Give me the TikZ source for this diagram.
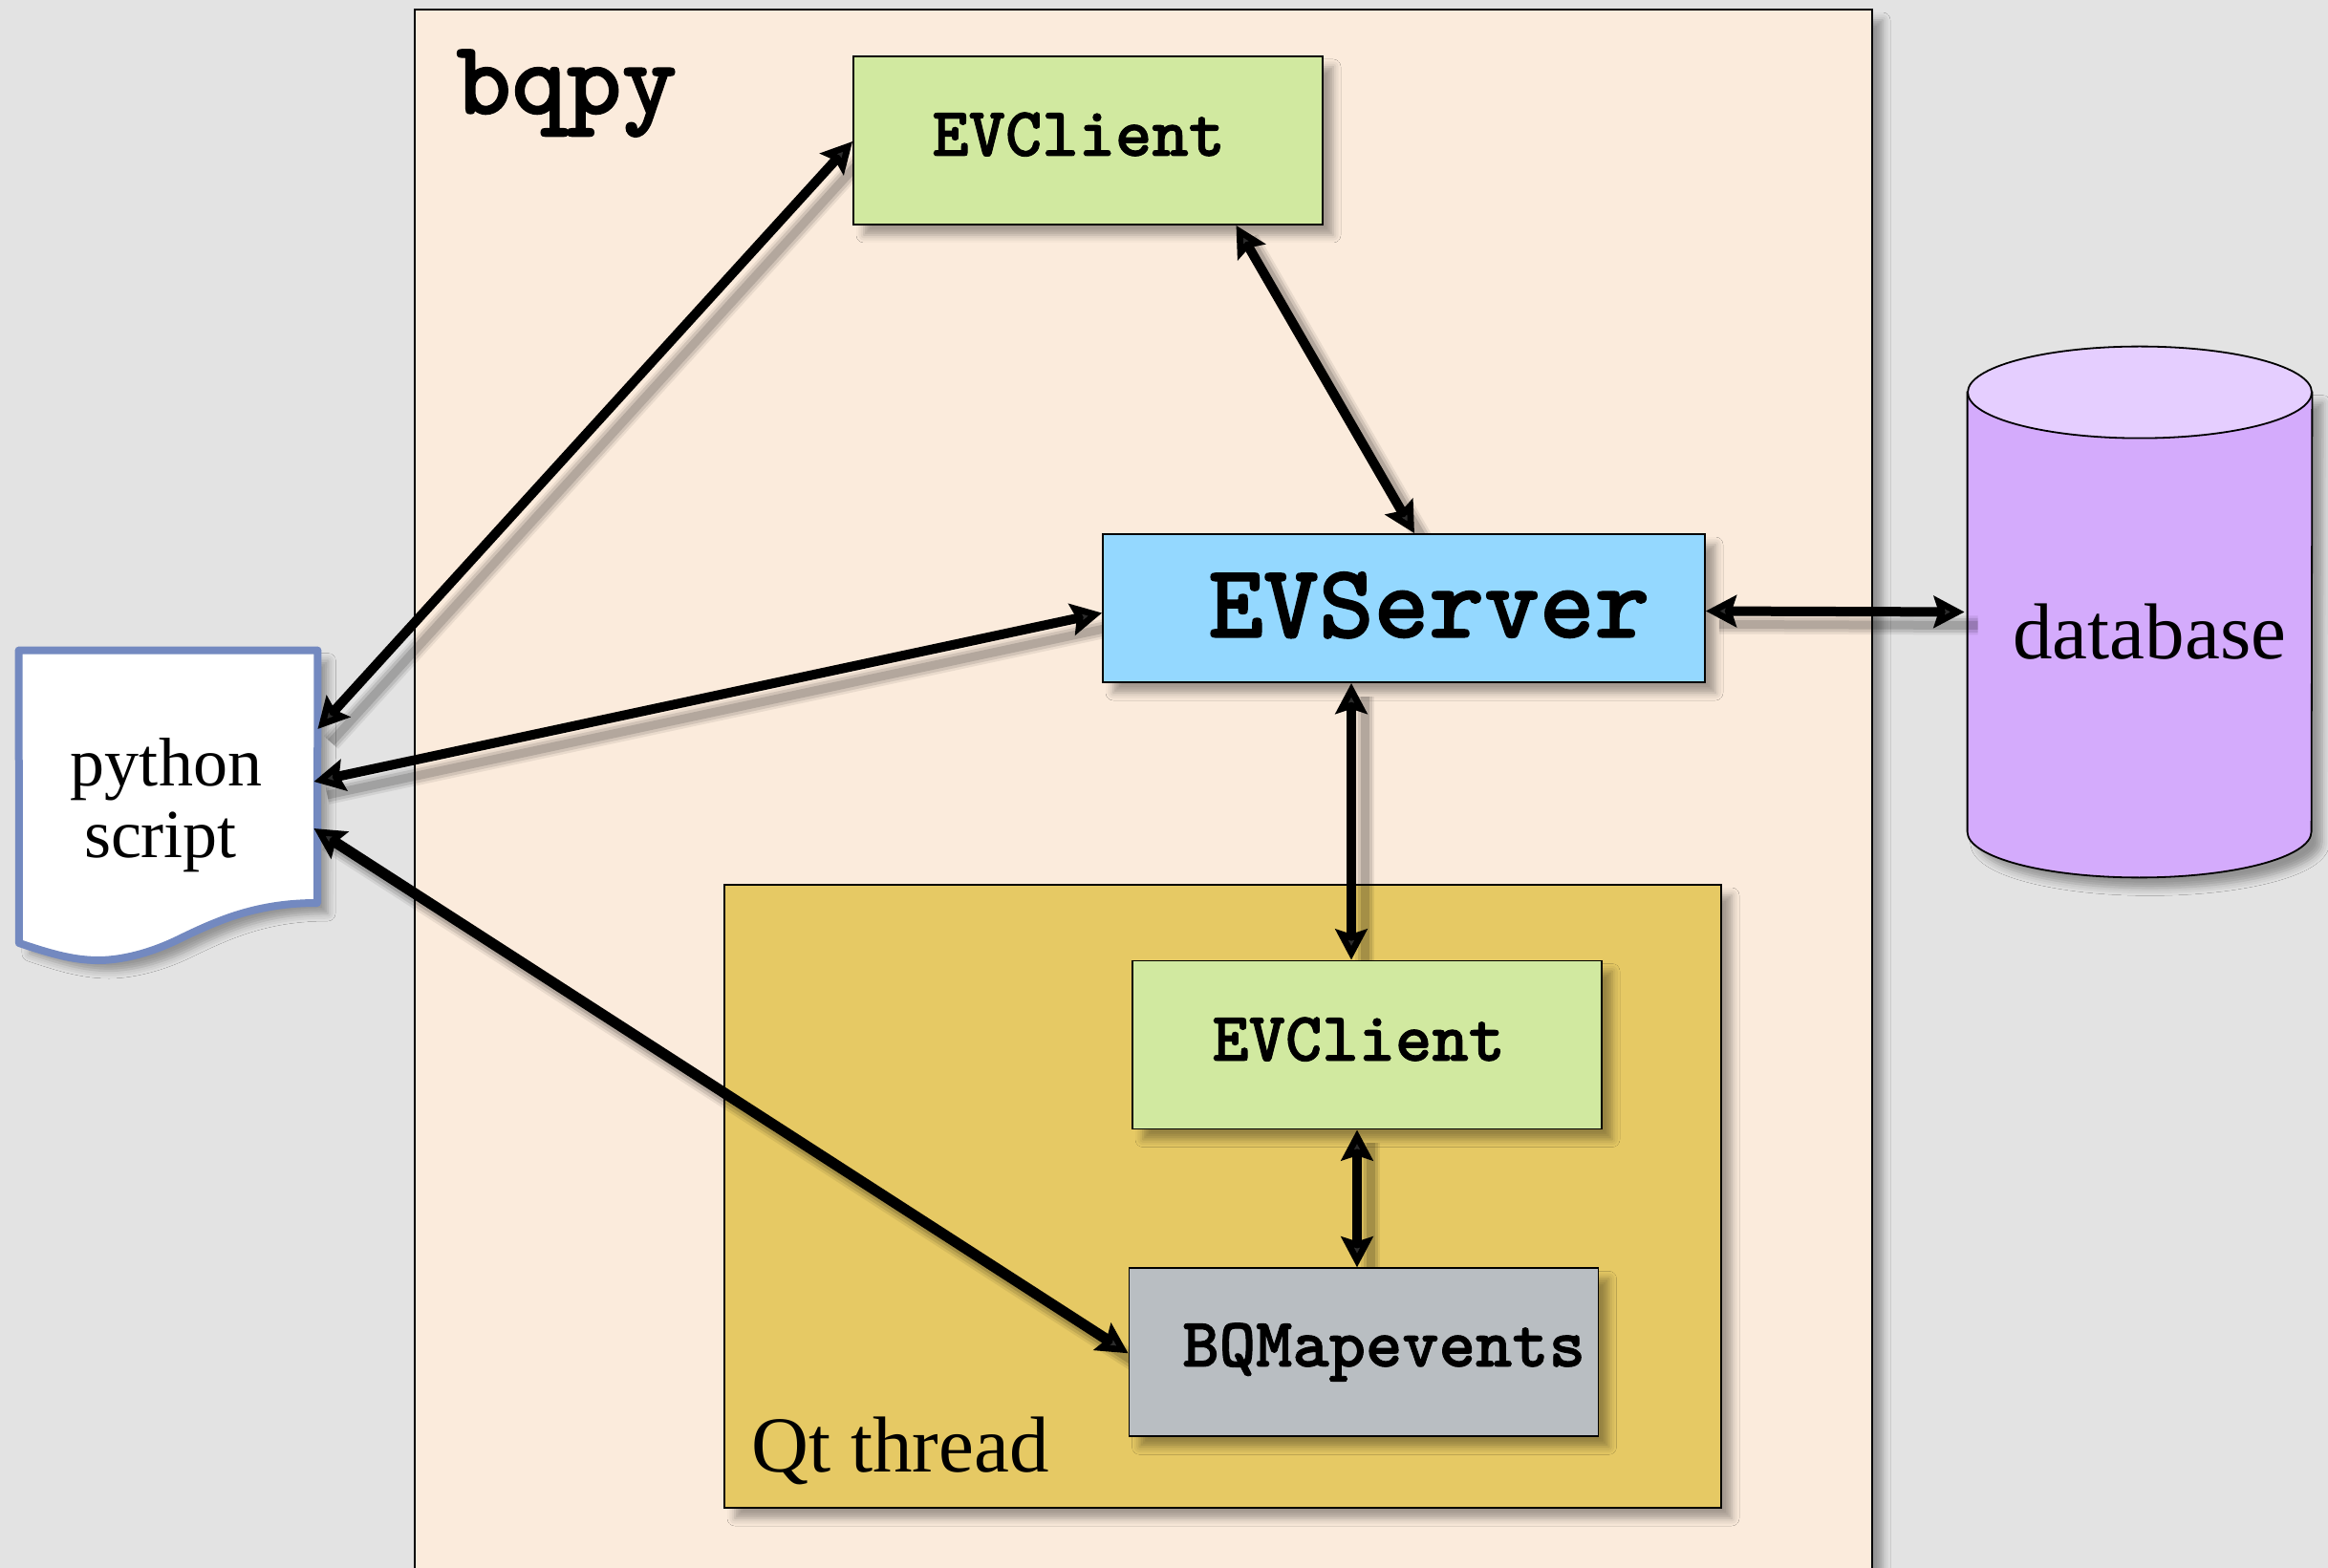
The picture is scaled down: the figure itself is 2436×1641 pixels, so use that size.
\documentclass[tikz,border=0pt]{standalone}
\usepackage{fontspec}
\setmainfont{Liberation Serif}
\setmonofont[BoldFeatures={FakeBold=1.2}]{Latin Modern Mono Light}
\usetikzlibrary{positioning,arrows.meta,shadows.blur}
\pgfdeclarelayer{top}
\pgfsetlayers{main,top}
\definecolor{pagegray}{HTML}{E3E3E3}
\definecolor{bqpycol}{HTML}{FBEBDC}
\definecolor{threadcol}{HTML}{E6C964}
\definecolor{clientcol}{HTML}{D1E9A0}
\definecolor{servercol}{HTML}{94D8FF}
\definecolor{mapcol}{HTML}{B9BEC2}
\definecolor{dbcol}{HTML}{D4ABFC}
\definecolor{dbtopcol}{HTML}{E5CEFF}
\definecolor{scriptcol}{HTML}{7389C0}

\begin{document}
\begin{tikzpicture}[x=0.5pt,y=-0.5pt,>={Stealth[length=16pt,width=16.5pt,inset=2.5pt]}]
	\tikzstyle{softshadow}=[blur shadow={shadow xshift=5.5pt,shadow yshift=-5.5pt,shadow blur radius=4pt,shadow opacity=35}]
	\tikzstyle{box}=[rectangle,draw=black,line width=0.9pt,inner sep=0pt,softshadow]
	\tikzstyle{client}=[box,fill=clientcol,minimum width=245.5pt,minimum height=88pt]
	\tikzstyle{code}=[inner sep=0pt,anchor=base west,font=\ttfamily\bfseries\fontsize{36.5}{36.5}\selectfont]
	\tikzstyle{bigcode}=[code,font=\ttfamily\bfseries\fontsize{55}{55}\selectfont]
	\tikzstyle{plain}=[inner sep=0pt,anchor=base west,font=\fontsize{41.5}{41.5}\selectfont]
	\tikzstyle{link}=[<->,line width=5pt,
		preaction={draw=black,-,opacity=0.07,line width=10pt,transform canvas={xshift=7pt,yshift=-7pt}},
		preaction={draw=black,-,opacity=0.10,line width=7.5pt,transform canvas={xshift=7pt,yshift=-7pt}},
		preaction={draw=black,-,opacity=0.14,line width=4.5pt,transform canvas={xshift=7pt,yshift=-7pt}}]
	\useasboundingbox (0,0) rectangle (2436,1641);
	\fill[pagegray] (0,0) rectangle (2436,1641);
		\node[box, fill=bqpycol, minimum width=762.5pt, minimum height=900pt] (bqpy) at (1196.5,910) {};
		\node[box, fill=threadcol, minimum width=521.5pt, minimum height=326pt] (thread) at (1279.5,1252) {};
		\node[minimum width=180pt, minimum height=277.5pt, inner sep=0pt] (db) at (2239,640.5) {};
		\draw[line width=0.9pt, fill=dbcol, softshadow] ([yshift=-24pt]db.north west) -- ([yshift=24pt]db.south west) arc (180:0:180 and 48) -- ([yshift=-24pt]db.north east) -- cycle;
		\draw[line width=0.9pt, fill=dbtopcol] ([yshift=-24pt]db.north) ellipse [x radius=180, y radius=48];
		\node[minimum width=156pt, minimum height=162pt, inner sep=0pt] (script) at (176,843) {};
		\path[fill=white, draw=scriptcol, line width=4pt, line join=round, softshadow] (script.north west) -- (script.north east) -- (332,945) .. controls (270,945) and (230,962) .. (187,983) .. controls (150,1001) and (120,1005) .. (103,1005) .. controls (75,1005) and (50,997) .. (20,987) -- cycle;
		\node[align=center, inner sep=0pt, font=\fontsize{36}{37.5}\selectfont] (scriptlabel) at (174,843) {python\\script\hspace*{6pt}};
		\node[plain] (dblabel) at (2106,690) {database};
	\begin{pgfonlayer}{top}
		\node[client] (client1) at (1138.5,147) {};
		\node[box, fill=servercol, minimum width=315pt, minimum height=77.5pt] (server) at (1469,636.5) {};
		\node[client] (client2) at (1430.5,1093.5) {};
		\node[box, fill=mapcol, minimum width=245.5pt, minimum height=88pt] (mapevents) [below=72pt of client2, xshift=-1.75pt] {};
		\node[bigcode] (bqpylabel) at (477,119) {bqpy};
		\node[code] (client1label) at (975,163) {EVClient};
		\node[bigcode] (serverlabel) at (1264,667) {EVServer};
		\node[code] (client2label) at (1268,1110) {EVClient};
		\node[code] (mapeventslabel) at (1237,1430) {BQMapevents};
		\node[plain] (threadlabel) at (786,1540) {Qt thread};
	\end{pgfonlayer}
			\draw[link] ([yshift=40pt]script.east) -- ([yshift=-0.5pt]client1.west);
			\draw[link] ([xshift=-2pt,yshift=12.5pt]script.east) -- ([yshift=-2.5pt]server.west);
			\draw[link, line width=5.6pt] ([xshift=-2pt,yshift=-12pt]script.east) -- ([yshift=-0.5pt]mapevents.west);
			\draw[link] ([xshift=77.5pt]client1.south) -- ([xshift=5.5pt]server.north);
			\draw[link] ([xshift=-27.5pt]server.south) -- ([xshift=-8.25pt]client2.north);
			\draw[link] ([yshift=-1.5pt]server.east) -- ([xshift=-1.5pt]db.west);
			\draw[link] ([xshift=-5.25pt]client2.south) -- ([xshift=-3.5pt]mapevents.north);
\end{tikzpicture}
\end{document}
